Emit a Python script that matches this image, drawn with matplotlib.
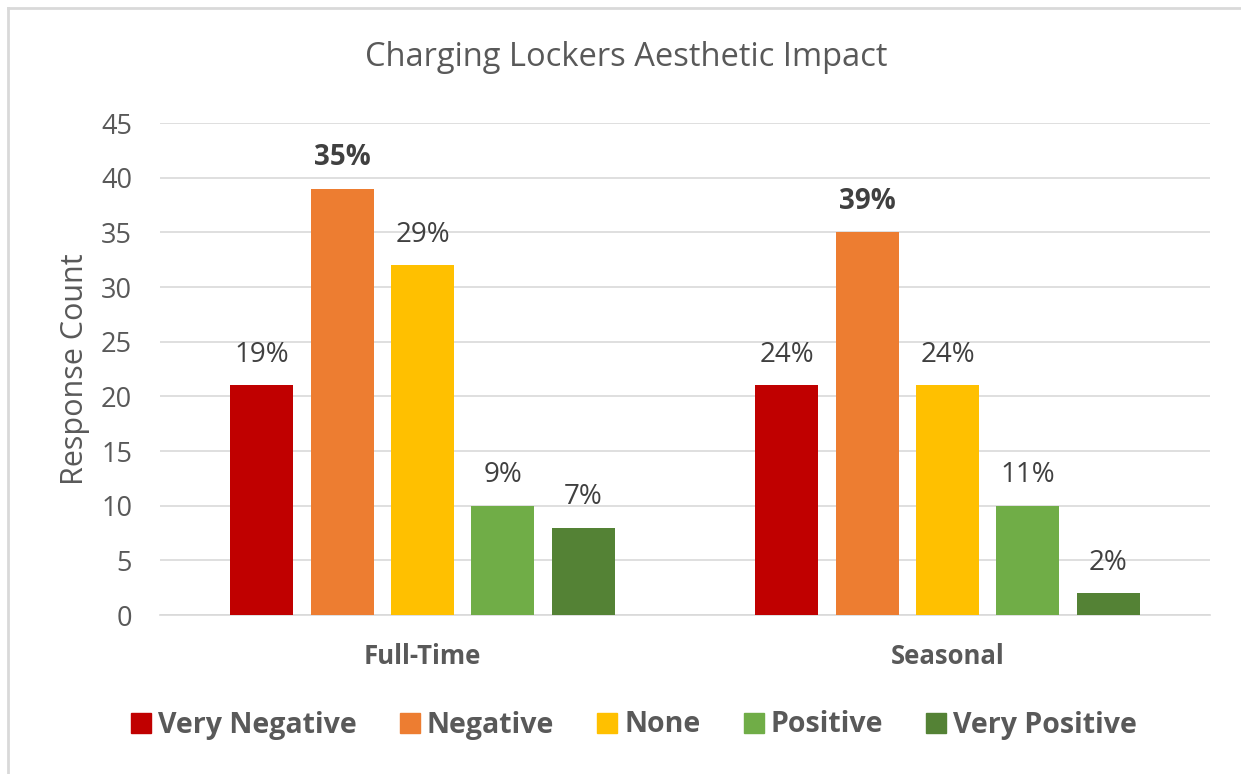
import matplotlib
matplotlib.use("Agg")
import matplotlib.pyplot as plt
from matplotlib.lines import Line2D
import numpy as np

plt.rcParams["font.family"] = ["Open Sans", "DejaVu Sans"]

groups = ["Full-Time", "Seasonal"]
responses = ["Very Negative", "Negative", "None", "Positive", "Very Positive"]
counts = {
    "Very Negative": [21, 21],
    "Negative": [39, 35],
    "None": [32, 21],
    "Positive": [10, 10],
    "Very Positive": [8, 2],
}
pct_labels = {
    "Very Negative": ["19%", "24%"],
    "Negative": ["35%", "39%"],
    "None": ["29%", "24%"],
    "Positive": ["9%", "11%"],
    "Very Positive": ["7%", "2%"],
}
colors = ["#C00000", "#ED7D31", "#FFC000", "#70AD47", "#548235"]
yticks = [0, 5, 10, 15, 20, 25, 30, 35, 40, 45]

TEXT = "#595959"

fig = plt.figure(figsize=(12.41, 7.74), dpi=100)
ax = fig.add_axes([160 / 1241, 1 - 615 / 774, 1050 / 1241, 492 / 774])

x = np.arange(len(groups))
width = 0.12
step = 0.153
for i, (resp, col) in enumerate(zip(responses, colors)):
    pos = x + (i - 2) * step
    bars = ax.bar(pos, counts[resp], width=width, color=col, zorder=3)
    for b, lab in zip(bars, pct_labels[resp]):
        ax.text(b.get_x() + b.get_width() / 2, b.get_height() + 1.5, lab,
                ha="center", va="bottom", fontsize=20, color="#404040",
                fontweight="bold" if resp == "Negative" else "normal")

ax.set_xlim(-0.5, 1.5)
ax.set_ylim(0, 45)
ax.set_yticks(yticks)
ax.yaxis.grid(True, color="#D9D9D9", linewidth=1.2, zorder=0)
ax.set_xticks(x)
ax.set_xticklabels(groups, fontsize=18.5, fontweight="bold", color=TEXT)
ax.tick_params(axis="x", length=0, pad=20)
ax.tick_params(axis="y", length=0, pad=20, labelsize=19.5, labelcolor=TEXT)
for s in ["top", "right", "left"]:
    ax.spines[s].set_visible(False)
ax.spines["bottom"].set_color("#D9D9D9")
ax.spines["bottom"].set_linewidth(1.2)
ax.set_ylabel("Response Count", fontsize=22, color=TEXT, labelpad=8)

fig.text(626 / 1241, 1 - 58 / 774, "Charging Lockers Aesthetic Impact",
         ha="center", va="center", fontsize=23.5, color=TEXT)

handles = [Line2D([0], [0], marker="s", linestyle="none", markersize=14,
                  markerfacecolor=c, markeredgecolor=c) for c in colors]
leg = fig.legend(handles, responses, loc="center", bbox_to_anchor=(632 / 1241, 1 - 725 / 774),
                 ncol=5, frameon=False, handletextpad=0.1, columnspacing=1.36,
                 prop={"size": 20.5, "weight": "bold"}, handlelength=1.0)
for t in leg.get_texts():
    t.set_color(TEXT)

# chart frame (top and left edges visible in the crop)
fig.add_artist(Line2D([8 / 1241, 8 / 1241], [0, 1 - 8 / 774], transform=fig.transFigure,
                      color="#D9D9D9", linewidth=2))
fig.add_artist(Line2D([8 / 1241, 1], [1 - 8 / 774, 1 - 8 / 774], transform=fig.transFigure,
                      color="#D9D9D9", linewidth=2))

fig.savefig("out.png", dpi=100)
